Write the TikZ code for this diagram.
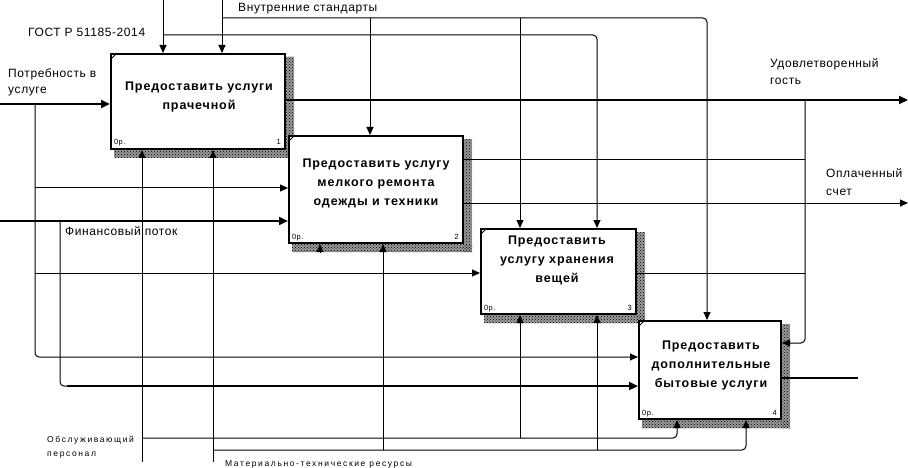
\documentclass[tikz,border=0pt]{standalone}
\usepackage{fontspec}
\setmainfont{Liberation Sans}
\newfontfamily\lblfont[LetterSpace=5]{Liberation Sans}
\newfontfamily\boxfont[LetterSpace=7]{Liberation Sans}
\newfontfamily\smlfont[LetterSpace=19]{Liberation Sans}
\usetikzlibrary{arrows.meta,patterns}
\begin{document}
\begin{tikzpicture}[x=1pt,y=-1pt,
  ln/.style={line width=1pt, rounded corners=4pt},
  lnb/.style={line width=2.4pt, rounded corners=4pt},
  arr/.style={ln, -{Triangle[length=8pt,width=7pt]}},
  arrb/.style={lnb, -{Triangle[length=9pt,width=8pt]}},
  fbox/.style={draw, line width=2pt, fill=white, rectangle, inner sep=0pt, anchor=north west},
  btxt/.style={font=\boxfont\bfseries\fontsize{12.5}{19}\selectfont, align=center, inner sep=0pt, anchor=north},
  lbl/.style={font=\lblfont\fontsize{12}{14}\selectfont, inner sep=0pt, anchor=base west},
  sml/.style={font=\smlfont\fontsize{8.5}{10}\selectfont, inner sep=0pt, anchor=base west},
  crn/.style={font=\lblfont\fontsize{7.5}{8}\selectfont, inner sep=0pt},
  shd/.style={pattern=crosshatch dots, pattern color=black},
  shdbg/.style={fill=black!40}
]
\useasboundingbox (0,0) rectangle (908,468);

% shadows
\foreach \s in {shdbg,shd}{
  \fill[\s] (286,57) rectangle (294,158);
  \fill[\s] (114,150) rectangle (294,158);
  \fill[\s] (464,139) rectangle (472,252);
  \fill[\s] (292,244) rectangle (472,252);
  \fill[\s] (637,232) rectangle (645,323);
  \fill[\s] (484,315) rectangle (645,323);
  \fill[\s] (782,324) rectangle (790,428);
  \fill[\s] (642,420) rectangle (790,428);
}

% box anchors
\path (110,53) node[fbox, draw=none, fill=none, minimum width=174pt, minimum height=95pt] (b1) {};
\path (288,135) node[fbox, draw=none, fill=none, minimum width=174pt, minimum height=107pt] (b2) {};
\path (480,228) node[fbox, draw=none, fill=none, minimum width=155pt, minimum height=85pt] (b3) {};
\path (638,320) node[fbox, draw=none, fill=none, minimum width=142pt, minimum height=98pt] (b4) {};

% controls
\coordinate (c1s) at (163,0);
\coordinate (c2s) at (222,0);
\draw[arr] (c1s) -- (c1s |- b1.north);
\draw[arr] (c2s) -- (c2s |- b1.north);
\coordinate (gj) at (163,35);
\coordinate (gc) at (597,35);
\draw[arr] (gj) -- (gc) -- (gc |- b3.north);
\coordinate (vj) at (222,18);
\coordinate (vc) at (707,18);
\draw[arr] (vj) -- (vc) -- (vc |- b4.north);
\coordinate (v2) at (370,18);
\draw[arr] (v2) -- (v2 |- b2.north);
\coordinate (v3) at (520,18);
\draw[arr] (v3) -- (v3 |- b3.north);

% inputs
\coordinate (in1) at (0,104);
\draw[arrb] (in1) -- (in1 -| b1.west);
\coordinate (ij) at (35,104);
\coordinate (ic) at (35,357);
\draw[arr] (ij) -- (ic) -- (ic -| b4.west);
\coordinate (i2) at (35,188);
\draw[arr] (i2) -- (i2 -| b2.west);
\coordinate (i3) at (35,273);
\draw[arr] (i3) -- (i3 -| b3.west);
\coordinate (fin) at (0,221);
\draw[arrb] (fin) -- (fin -| b2.west);
\coordinate (fj) at (60,221);
\coordinate (fc) at (60,386);
\coordinate (fc2) at (67,386);
\draw[ln] (fj) -- (fc) -- (fc2);
\draw[arrb] (fc2) -- (fc2 -| b4.west);

% outputs
\coordinate (o1) at (908,100);
\draw[arrb] (b1.east |- o1) -- (o1);
\coordinate (oj) at (805,100);
\coordinate (oc) at (805,343);
\draw[arr] (oj) -- (oc) -- (oc -| b4.east);
\coordinate (o2) at (805,160);
\draw[ln] (b2.east |- o2) -- (o2);
\coordinate (o3) at (805,273);
\draw[ln] (b3.east |- o3) -- (o3);
\coordinate (o4) at (908,203);
\draw[arr] (b2.east |- o4) -- (o4);
\coordinate (o5) at (858,378);
\draw[lnb] (b4.east |- o5) -- (o5);

% mechanisms
\coordinate (m1) at (142,462);
\coordinate (m2) at (213,462);
\draw[arr] (m1) -- (m1 |- b1.south);
\draw[arr] (m2) -- (m2 |- b1.south);
\coordinate (mj) at (142,438);
\coordinate (mc) at (677,438);
\draw[arr] (mj) -- (mc) -- (mc |- b4.south);
\coordinate (m3) at (520,438);
\draw[arr] (m3) -- (m3 |- b3.south);
\coordinate (m4) at (320,253);
\draw[arr] (m4) -- (m4 |- b2.south);
\coordinate (tj) at (213,450);
\coordinate (tc) at (746,450);
\draw[arr] (tj) -- (tc) -- (tc |- b4.south);
\coordinate (t2) at (383,450);
\draw[arr] (t2) -- (t2 |- b2.south);
\coordinate (t3) at (597,450);
\draw[arr] (t3) -- (t3 |- b3.south);

% boxes drawn
\path (110,53) node[fbox, minimum width=174pt, minimum height=95pt] (B1) {};
\path (288,135) node[fbox, minimum width=174pt, minimum height=107pt] (B2) {};
\path (480,228) node[fbox, minimum width=155pt, minimum height=85pt] (B3) {};
\path (638,320) node[fbox, minimum width=142pt, minimum height=98pt] (B4) {};

% corner marks
\foreach \b in {B1,B2,B3,B4}{
  \draw[line width=0.8pt] ([yshift=-7pt]\b.north west) -- ([xshift=7pt]\b.north west);
}
\node[crn, anchor=base west] (k1) at (114,145) {0р.};
\node[crn, anchor=base east] (n1) at (281,145) {1};
\node[crn, anchor=base west] (k2) at (292,239) {0р.};
\node[crn, anchor=base east] (n2) at (459,239) {2};
\node[crn, anchor=base west] (k3) at (484,310) {0р.};
\node[crn, anchor=base east] (n3) at (632,310) {3};
\node[crn, anchor=base west] (k4) at (642,415) {0р.};
\node[crn, anchor=base east] (n4) at (777,415) {4};

% box texts
\node[btxt] (t1) at (199,82) {Предоставить услуги\\прачечной};
\node[btxt] (tt2) at (376,159) {Предоставить услугу\\мелкого ремонта\\одежды и техники};
\node[btxt] (tt3) at (557,236) {Предоставить\\услугу хранения\\вещей};
\node[btxt] (tt4) at (711,341) {Предоставить\\дополнительные\\бытовые услуги};

% labels
\node[lbl] (l1) at (238,12) {Внутренние стандарты};
\node[lbl] (l2) at (28,37) {ГОСТ Р 51185-2014};
\node[lbl] (l3) at (8,78) {Потребность в};
\node[lbl] (l3b) at (8,94) {услуге};
\node[lbl] (l4) at (770,68) {Удовлетворенный};
\node[lbl] (l4b) at (770,85) {гость};
\node[lbl] (l5) at (826,178) {Оплаченный};
\node[lbl] (l5b) at (826,195) {счет};
\node[lbl] (l6) at (65,235) {Финансовый поток};
\node[sml] (l7) at (47,442) {Обслуживающий};
\node[sml] (l7b) at (47,456) {персонал};
\node[sml] (l8) at (225,466) {Материально-технические ресурсы};
\end{tikzpicture}
\end{document}
